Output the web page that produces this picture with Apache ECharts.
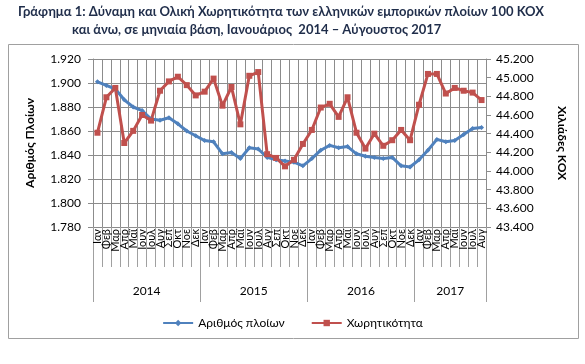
<!DOCTYPE html>
<html>
<head>
<meta charset="utf-8">
<script src="https://cdn.jsdelivr.net/npm/echarts@6/dist/echarts.min.js"></script>
<style>
html,body{margin:0;padding:0;background:#fff;}
#c{width:585px;height:364px;}
</style>
</head>
<body>
<div id="c"></div>
<script>
const monthNames = ['Ιαν','Φεβ','Μαρ','Απρ','Μαϊ','Ιουν','Ιουλ','Αυγ','Σεπ','Οκτ','Νοε','Δεκ'];
const years = ['2014','2015','2016','2017'];
const monthsPerYear = [12,12,12,8];
const shipCount = [1.901,1.898,1.895,1.886,1.880,1.877,1.870,1.869,1.871,1.866,1.860,1.856,
  1.852,1.851,1.841,1.842,1.837,1.846,1.845,1.838,1.836,1.835,1.834,1.831,
  1.837,1.844,1.848,1.846,1.847,1.841,1.839,1.838,1.837,1.838,1.831,1.830,
  1.836,1.844,1.853,1.851,1.852,1.857,1.862,1.863];
const tonnage = [44.41,44.79,44.89,44.30,44.43,44.60,44.54,44.86,44.96,45.01,44.92,44.81,
  44.85,44.99,44.70,44.90,44.50,45.02,45.06,44.18,44.14,44.05,44.12,44.29,
  44.44,44.68,44.72,44.58,44.79,44.41,44.24,44.40,44.27,44.33,44.44,44.33,
  44.71,45.04,45.04,44.83,44.89,44.86,44.84,44.76];
const leftTicks = {min:1.78, max:1.92, step:0.02};
const rightTicks = {min:43.4, max:45.2, step:0.2};

const categories = [];
years.forEach((y,i)=>{ for(let m=0;m<monthsPerYear[i];m++) categories.push(monthNames[m]); });
const yearBounds = [0];
monthsPerYear.forEach(n=>yearBounds.push(yearBounds[yearBounds.length-1]+n));
const yearMids = years.map((y,i)=>(yearBounds[i]+yearBounds[i+1])/2);

const F = 'Lato, "Open Sans", sans-serif';
const grid = '#8c8c8c';
const chart = echarts.init(document.getElementById('c'));
chart.setOption({
  animation:false,
  textStyle:{fontFamily:F},
  graphic:[
    {type:'rect', shape:{x:8.5,y:44.5,width:570,height:294}, style:{fill:'none',stroke:'#a0a0a0',lineWidth:1}, z:-1},
    {type:'text', left:18, top:5, style:{text:'Γράφημα 1: Δύναμη και Ολική Χωρητικότητα των ελληνικών εμπορικών πλοίων 100 ΚΟΧ', fill:'#1F2D4A', font:'bold 13px '+F}},
    {type:'text', left:72, top:23, style:{text:'και άνω, σε μηνιαία βάση, Ιανουάριος  2014 – Αύγουστος 2017', fill:'#1F2D4A', font:'bold 13px '+F}}
  ],
  legend:{
    top:312, left:'center', itemWidth:30, itemHeight:8, itemGap:26,
    textStyle:{fontSize:12, color:'#000', fontFamily:F},
    data:['Αριθμός πλοίων','Χωρητικότητα']
  },
  grid:{left:93, right:99, top:59, bottom:137},
  xAxis:[
    {type:'category', data:categories, boundaryGap:true,
     axisLine:{show:true, lineStyle:{color:grid}},
     axisTick:{show:true, interval:0, length:40, lineStyle:{color:'#a0a0a0'}},
     axisLabel:{interval:0, rotate:90, fontSize:11, color:'#000', margin:2, fontFamily:F},
     splitLine:{show:true, interval:0, lineStyle:{color:grid}}},
    {type:'value', position:'bottom', min:0, max:yearBounds[yearBounds.length-1],
     axisLine:{show:false},
     axisTick:{show:true, customValues:yearBounds, length:75, lineStyle:{color:'#a0a0a0'}},
     axisLabel:{show:true, customValues:yearMids, margin:58, fontSize:12, color:'#000', fontFamily:F,
       formatter:(v)=>{ const i = yearMids.indexOf(v); return i>=0 ? years[i] : ''; }},
     splitLine:{show:false}}
  ],
  yAxis:[
    {type:'value', min:leftTicks.min, max:leftTicks.max, interval:leftTicks.step,
     name:'Αριθμός Πλοίων', nameLocation:'middle', nameGap:57,
     nameTextStyle:{fontSize:12, fontWeight:'bold', color:'#000', fontFamily:F},
     axisLine:{show:true, lineStyle:{color:grid}},
     axisTick:{show:true, length:5, lineStyle:{color:grid}},
     axisLabel:{fontSize:12, color:'#000', margin:12, formatter:v=>v.toFixed(3), fontFamily:F},
     splitLine:{show:true, lineStyle:{color:grid}}},
    {type:'value', position:'right', min:rightTicks.min, max:rightTicks.max, interval:rightTicks.step,
     name:'Χιλιάδες ΚΟΧ', nameLocation:'middle', nameGap:70, nameRotate:-90,
     nameTextStyle:{fontSize:12, fontWeight:'bold', color:'#000', fontFamily:F},
     axisLine:{show:true, lineStyle:{color:grid}},
     axisTick:{show:true, length:5, lineStyle:{color:grid}},
     axisLabel:{fontSize:12, color:'#000', margin:10, formatter:v=>v.toFixed(3), fontFamily:F},
     splitLine:{show:false}}
  ],
  series:[
    {name:'Αριθμός πλοίων', type:'line', xAxisIndex:0, yAxisIndex:0, data:shipCount,
     symbol:'diamond', symbolSize:5, showAllSymbol:true,
     lineStyle:{color:'#4F81BD', width:3}, itemStyle:{color:'#4F81BD'}},
    {name:'Χωρητικότητα', type:'line', xAxisIndex:0, yAxisIndex:1, data:tonnage,
     symbol:'rect', symbolSize:6, showAllSymbol:true,
     lineStyle:{color:'#C0504D', width:3}, itemStyle:{color:'#C0504D'}}
  ]
});
</script>
</body>
</html>
